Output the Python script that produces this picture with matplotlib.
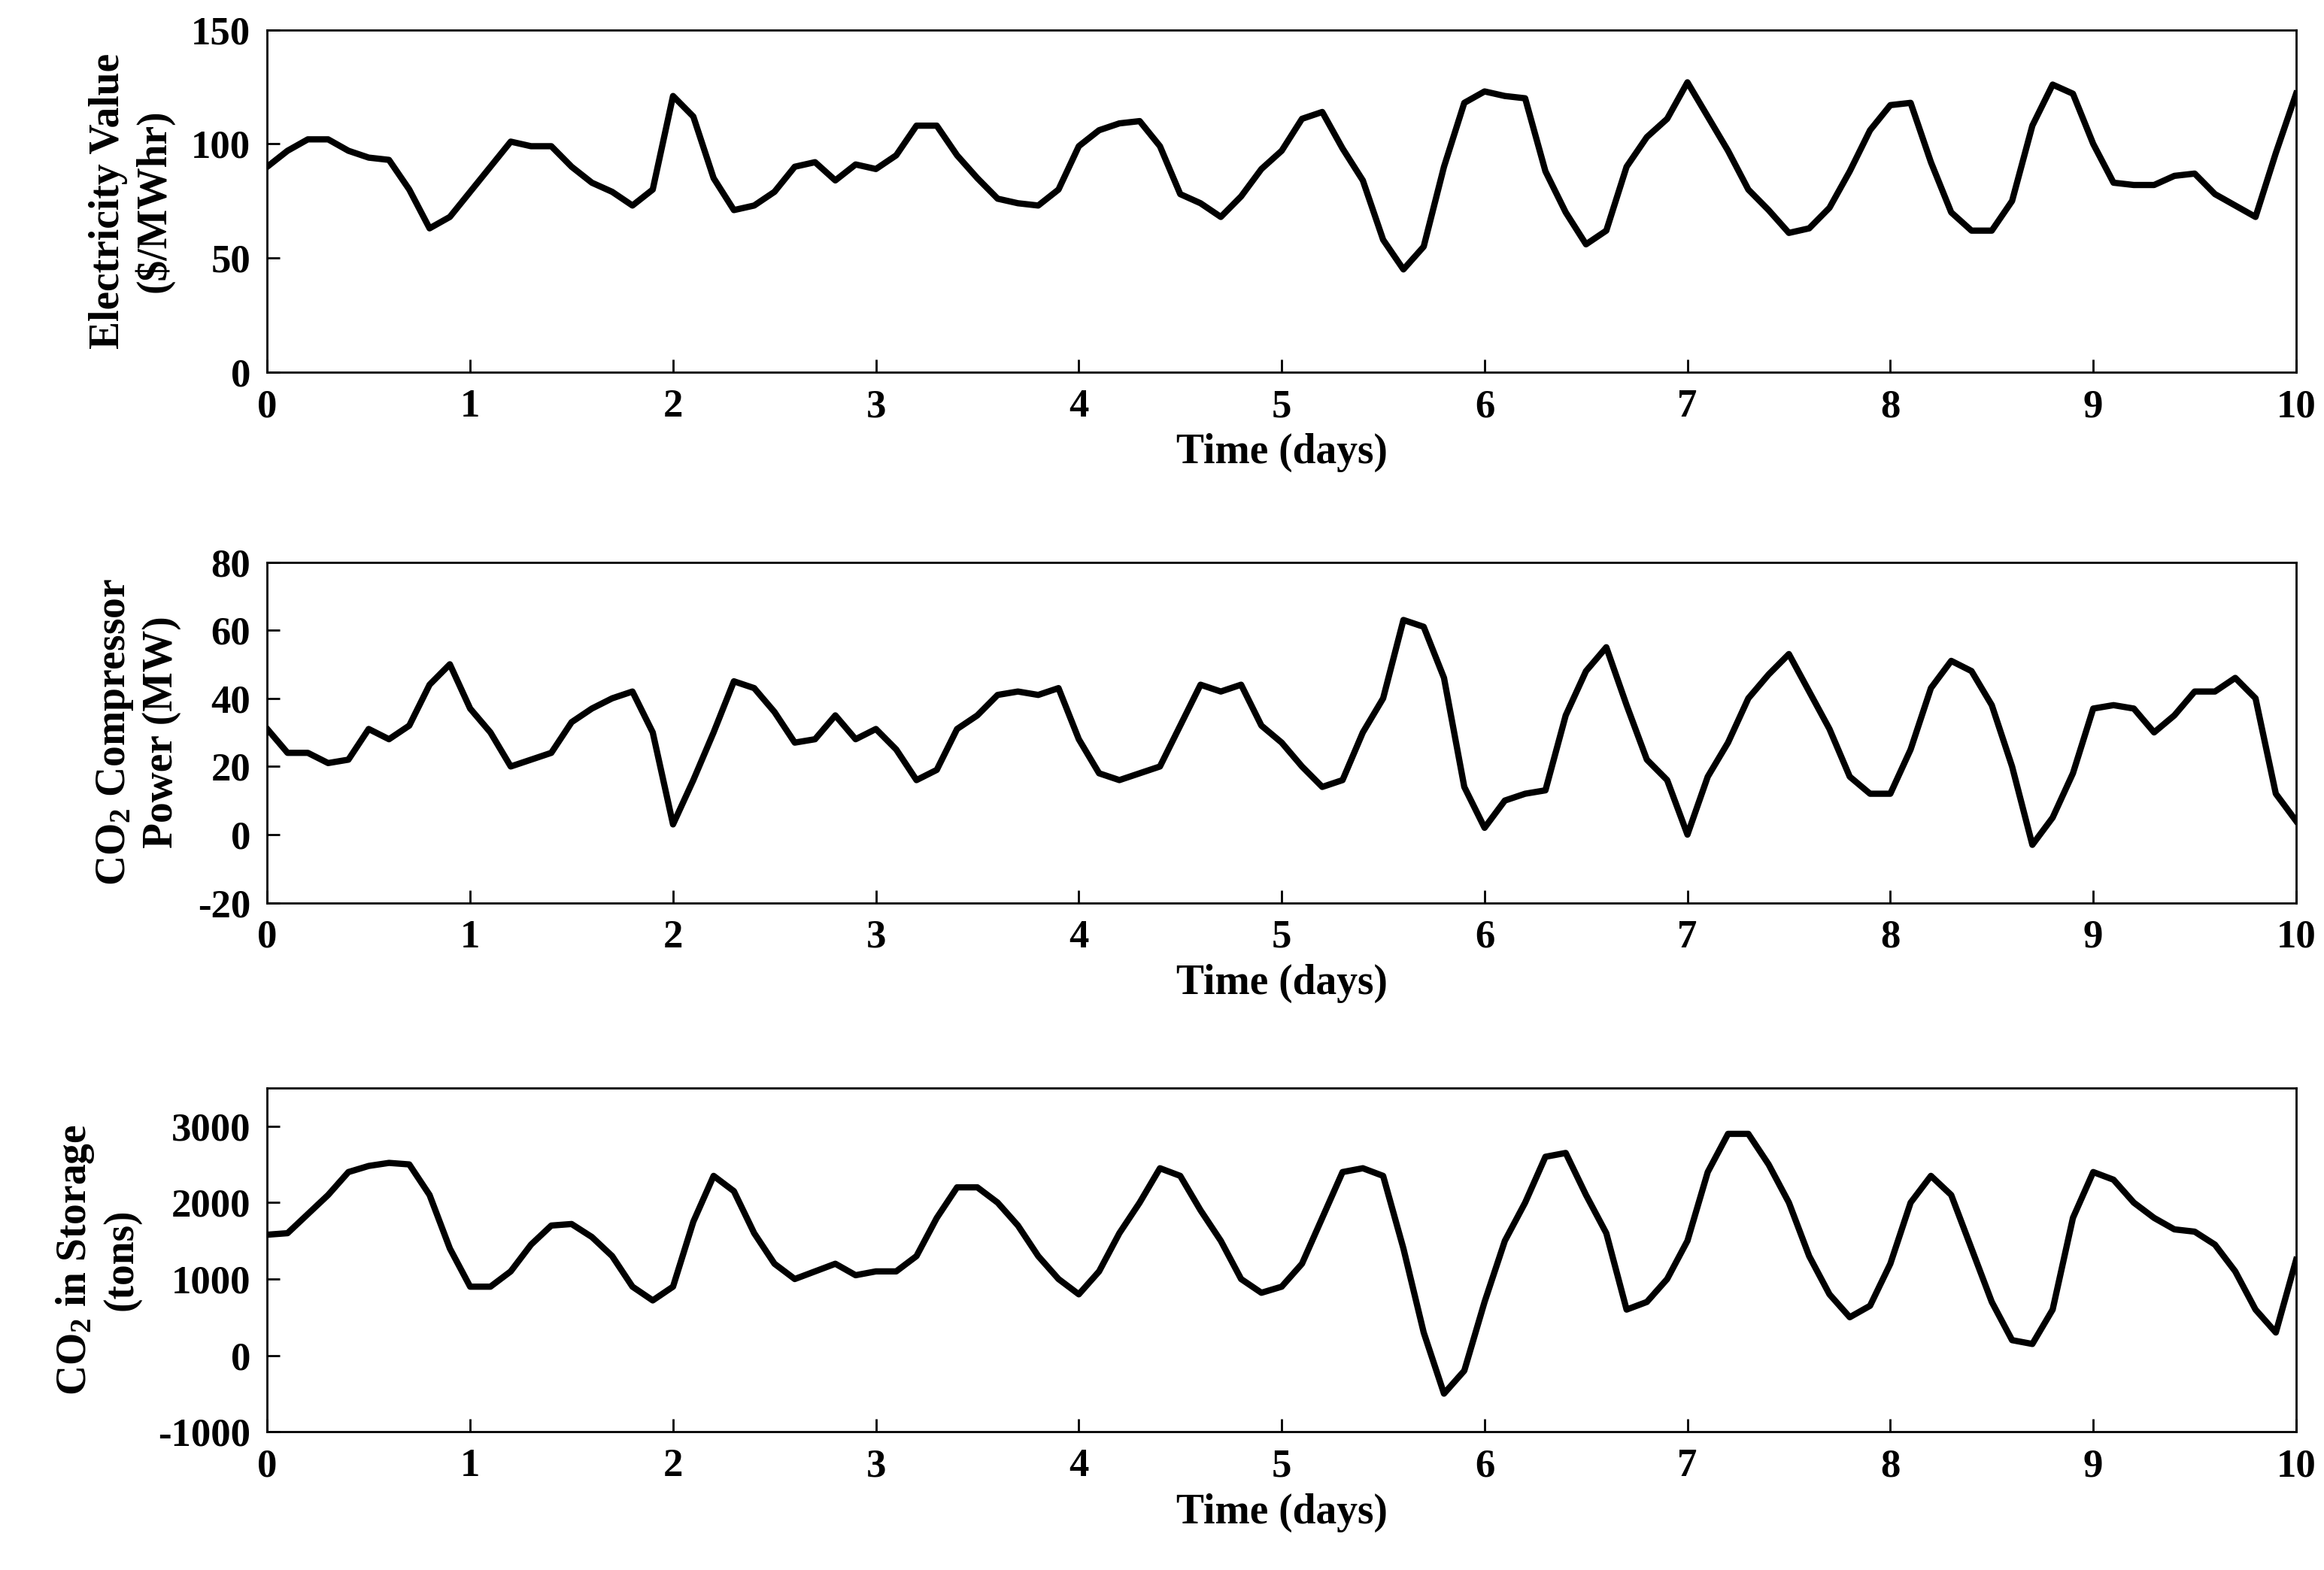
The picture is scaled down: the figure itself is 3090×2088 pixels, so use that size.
import numpy as np
import matplotlib
matplotlib.use('Agg')
import matplotlib.pyplot as plt

plt.rcParams['font.family'] = ['Liberation Serif', 'DejaVu Serif']
plt.rcParams['font.weight'] = 'bold'
plt.rcParams['mathtext.fontset'] = 'custom'
plt.rcParams['mathtext.rm'] = 'Liberation Serif:bold'
plt.rcParams['mathtext.default'] = 'rm'
plt.rcParams['axes.unicode_minus'] = False

# time in days, sampled every 0.1 day
days = np.arange(0, 101) / 10.0

price = [90, 97, 102, 102, 97, 94, 93, 80, 63, 68, 79, 90, 101, 99, 99, 90, 83, 79, 73, 80,
         121, 112, 85, 71, 73, 79, 90, 92, 84, 91, 89, 95, 108, 108, 95, 85, 76, 74, 73, 80,
         99, 106, 109, 110, 99, 78, 74, 68, 77, 89, 97, 111, 114, 98, 84, 58, 45, 55, 90, 118,
         123, 121, 120, 88, 70, 56, 62, 90, 103, 111, 127, 112, 97, 80, 71, 61, 63, 72, 88, 106,
         117, 118, 92, 70, 62, 62, 75, 108, 126, 122, 100, 83, 82, 82, 86, 87, 78, 73, 68, 96,
         122]

power = [31, 24, 24, 21, 22, 31, 28, 32, 44, 50, 37, 30, 20, 22, 24, 33, 37, 40, 42, 30,
         3, 16, 30, 45, 43, 36, 27, 28, 35, 28, 31, 25, 16, 19, 31, 35, 41, 42, 41, 43,
         28, 18, 16, 18, 20, 32, 44, 42, 44, 32, 27, 20, 14, 16, 30, 40, 63, 61, 46, 14,
         2, 10, 12, 13, 35, 48, 55, 38, 22, 16, 0, 17, 27, 40, 47, 53, 42, 31, 17, 12,
         12, 25, 43, 51, 48, 38, 20, -3, 5, 18, 37, 38, 37, 30, 35, 42, 42, 46, 40, 12,
         4]

storage = [1580, 1600, 1850, 2100, 2400, 2480, 2520, 2500, 2100, 1400, 900, 900, 1100, 1450, 1700,
           1720, 1550, 1300, 900, 720, 900, 1750, 2350, 2150, 1600, 1200, 1000, 1100, 1200, 1050,
           1100, 1100, 1300, 1800, 2200, 2200, 2000, 1700, 1300, 1000, 800, 1100, 1600, 2000, 2450,
           2350, 1900, 1500, 1000, 820, 900, 1200, 1800, 2400, 2450, 2350, 1400, 300, -500, -200,
           700, 1500, 2000, 2600, 2650, 2100, 1600, 600, 700, 1000, 1500, 2400, 2900, 2900, 2500,
           2000, 1300, 800, 500, 650, 1200, 2000, 2350, 2100, 1400, 700, 200, 150, 600, 1800,
           2400, 2300, 2000, 1800, 1650, 1620, 1450, 1100, 600, 300, 1250]

fig = plt.figure(figsize=(15.45, 10.44), dpi=200)
specs = [
    ([0.115, 0.763, 0.873, 0.218], price, (0, 150), [0, 50, 100, 150],
     'Electricity Value\n(\\$/MWhr)'),
    ([0.115, 0.425, 0.873, 0.217], power, (-20, 80), [-20, 0, 20, 40, 60, 80],
     'CO$_2$ Compressor\nPower (MW)'),
    ([0.115, 0.088, 0.873, 0.219], storage, (-1000, 3500), [-1000, 0, 1000, 2000, 3000],
     'CO$_2$ in Storage\n(tons)'),
]
for rect, y, ylim, yt, lab in specs:
    ax = fig.add_axes(rect)
    ax.plot(days, y, color='black', lw=3)
    ax.set_xlim(0, 10)
    ax.set_ylim(*ylim)
    ax.set_xticks(range(11))
    ax.set_yticks(yt)
    ax.tick_params(labelsize=19, direction='in', length=6, width=1, pad=8)
    ax.set_xlabel('Time (days)', fontsize=20, fontweight='bold', labelpad=4)
    ax.set_ylabel(lab, fontsize=20, fontweight='bold', labelpad=8)
    for s in ax.spines.values():
        s.set_linewidth(1)

fig.savefig('out.png', dpi=200)
